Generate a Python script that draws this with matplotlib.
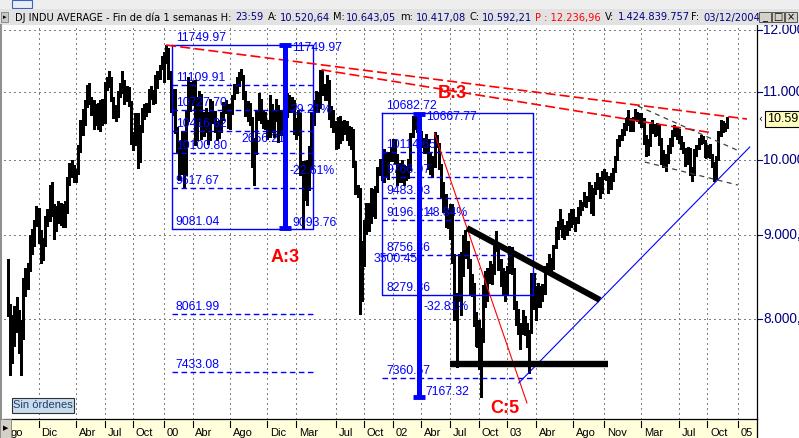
import matplotlib
matplotlib.use("Agg")
import matplotlib.pyplot as plt
import matplotlib.dates as mdates
import matplotlib.transforms as mtransforms
from matplotlib.patches import Rectangle
from matplotlib.ticker import NullLocator
import pandas as pd

# barras semanales DJ INDU (viernes), 28/08/1998 - 03/12/2004
hi98 = [8700, 8170, 8050, 8150, 8250, 8100, 7990, 8480, 8590, 8650, 9000, 9080, 9190, 9380, 9350, 9070, 8970, 9250, 9330]
lo98 = [8040, 7400, 7520, 7700, 7860, 7630, 7400, 7780, 8260, 8350, 8560, 8770, 8870, 9120, 8900, 8650, 8690, 8870, 9110]
cl98 = [8052, 7640, 7795, 7896, 8029, 7785, 7900, 8417, 8452, 8592, 8975, 8920, 9160, 9333, 9016, 8822, 8904, 9217, 9181]

hi99 = [9650, 9700, 9400, 9380, 9440, 9420, 9400, 9440, 9760, 9960, 10000, 9930, 9880, 10210, 10570, 10740, 10880, 11110,
        11140, 10930, 10880, 10820, 10830, 10880, 10900, 11150, 11230, 11330, 11230, 10920, 10800, 11010, 11140, 11330, 11180,
        11100, 11080, 10870, 10400, 10680, 10680, 10500, 10750, 10810, 10830, 11050, 11090, 11030, 11260, 11330, 11420, 11570]
lo99 = [9180, 9250, 8950, 9050, 9150, 9130, 9100, 9100, 9280, 9650, 9770, 9700, 9700, 9800, 10120, 10350, 10500, 10770,
        10820, 10650, 10450, 10510, 10440, 10420, 10500, 10540, 11030, 11080, 10870, 10600, 10560, 10620, 10930, 10990, 10820,
        10870, 10780, 10230, 10140, 10220, 9890, 9970, 10400, 10590, 10640, 10690, 10900, 10810, 10840, 11070, 11200, 11360]
cl99 = [9643, 9341, 9121, 9359, 9304, 9275, 9340, 9307, 9736, 9876, 9904, 9822, 9833, 10174, 10494, 10690, 10789, 11032,
        10913, 10829, 10560, 10800, 10491, 10856, 10553, 11139, 11194, 11210, 10911, 10655, 10714, 10974, 11100, 11090, 11079,
        11028, 10804, 10279, 10273, 10649, 10020, 10470, 10730, 10704, 10770, 11004, 10989, 10877, 11225, 11258, 11405, 11497]

hi00 = [11640, 11750, 11700, 11330, 11040, 11050, 10480, 10270, 10420, 10400, 10720, 11240, 11150, 11170, 11180, 10920, 11010,
        10970, 10700, 10760, 10700, 10890, 10870, 10710, 10560, 10580, 10700, 10850, 10880, 10810, 10810, 10960, 11120, 11240,
        11310, 11360, 11270, 11020, 10860, 10830, 10620, 10320, 10720, 10980, 10900, 10720, 10700, 10580, 10960, 10810, 10720, 10900]
lo00 = [11150, 11450, 11200, 10690, 10650, 10380, 10110, 9730, 9800, 9618, 9790, 10560, 10710, 10800, 10220, 10280, 10560,
        10300, 10340, 10400, 10230, 10290, 10540, 10400, 10280, 10320, 10400, 10580, 10680, 10460, 10450, 10660, 10890, 10980,
        11100, 11180, 10900, 10640, 10560, 10500, 9900, 9655, 10080, 10570, 10530, 10460, 10440, 10300, 10330, 10400, 10330, 10560]
cl00 = [11523, 11723, 11252, 10739, 10964, 10425, 10220, 9862, 10367, 9929, 10631, 11113, 10922, 11111, 10306, 10844, 10734,
        10578, 10609, 10627, 10299, 10795, 10614, 10449, 10376, 10448, 10636, 10813, 10734, 10511, 10768, 10909, 11046, 11193,
        11239, 11260, 10927, 10847, 10651, 10597, 10192, 10227, 10591, 10818, 10603, 10630, 10470, 10374, 10713, 10435, 10636, 10787]

hi01 = [10800, 10720, 10700, 10800, 10990, 10960, 10920, 10880, 10600, 10720, 10680, 9990, 9990, 10000, 10200, 10690, 10880,
        11010, 11000, 11350, 11340, 11120, 11270, 11180, 10780, 10720, 10560, 10620, 10640, 10560, 10580, 10560, 10490, 10470,
        10450, 9990, 9660, 9620, 8920, 9190, 9420, 9420, 9610, 9600, 9640, 9900, 10010, 9990, 10150, 10100, 10120, 10180]
lo01 = [10260, 10350, 10380, 10450, 10620, 10700, 10690, 10370, 10300, 10350, 9790, 9094, 9450, 9390, 9590, 9880, 10500,
        10700, 10700, 10750, 10950, 10880, 10880, 10590, 10480, 10400, 10160, 10170, 10240, 10280, 10370, 10280, 10210, 10150,
        9900, 9530, 9490, 8062, 8200, 8620, 9020, 9050, 9160, 9250, 9220, 9560, 9790, 9730, 9700, 9760, 9740, 9990]
cl01 = [10662, 10525, 10588, 10660, 10864, 10781, 10800, 10442, 10466, 10645, 9823, 9505, 9879, 9791, 10127, 10580, 10810,
        10951, 10821, 11302, 11005, 10990, 11176, 10624, 10605, 10502, 10253, 10539, 10417, 10416, 10513, 10416, 10241, 10423,
        9950, 9606, 9606, 8236, 8848, 9120, 9344, 9204, 9545, 9324, 9608, 9867, 9960, 9852, 10049, 9811, 10035, 10137]

hi02 = [10300, 10280, 10090, 9960, 10000, 9930, 9920, 10010, 10380, 10640, 10683, 10650, 10480, 10420, 10310, 10370, 10300,
        10120, 10060, 10400, 10360, 10240, 9950, 9700, 9530, 9320, 9400, 9400, 8760, 8300, 8760, 8790, 9000, 9060, 8920, 8700,
        8520, 8420, 8080, 7990, 7900, 8390, 8560, 8600, 8680, 8640, 8870, 9050, 8900, 8700, 8600, 8560]
lo02 = [9990, 9960, 9650, 9700, 9690, 9650, 9720, 9750, 9860, 10330, 10450, 10400, 10330, 10180, 10100, 10100, 9880, 9800,
        9760, 9900, 10180, 9870, 9480, 9300, 9100, 9090, 8950, 8650, 7990, 7485, 8200, 8050, 8500, 8720, 8600, 8280, 8260, 7920,
        7700, 7460, 7167, 7750, 8140, 8200, 8420, 8400, 8520, 8800, 8570, 8380, 8280, 8200]
cl02 = [10260, 10068, 9772, 9840, 9907, 9744, 9903, 9968, 10369, 10572, 10607, 10428, 10404, 10272, 10191, 10257, 9911,
        10007, 9940, 10353, 10216, 9925, 9590, 9474, 9254, 9243, 9380, 8685, 8019, 8264, 8313, 8745, 8778, 8873, 8664, 8427,
        8379, 7986, 7701, 7528, 7850, 8322, 8444, 8518, 8537, 8579, 8805, 8896, 8646, 8434, 8511, 8304]

hi03 = [8620, 8870, 8850, 8600, 8210, 8110, 7960, 8100, 8040, 7960, 7880, 8540, 8530, 8380, 8420, 8380, 8400, 8620, 8660,
        8760, 8720, 8880, 9100, 9180, 9340, 9210, 9130, 9180, 9290, 9330, 9340, 9230, 9360, 9460, 9430, 9560, 9510, 9690, 9660,
        9610, 9700, 9820, 9760, 9850, 9880, 9840, 9780, 9820, 9890, 10060, 10300, 10350]
lo03 = [8280, 8540, 8520, 8110, 7930, 7840, 7670, 7830, 7820, 7690, 7416, 7850, 8110, 7990, 8140, 8140, 8200, 8290, 8530,
        8520, 8520, 8580, 8840, 8950, 9080, 8980, 8950, 9000, 9070, 9100, 9140, 9050, 9160, 9260, 9320, 9380, 9360, 9440, 9290,
        9260, 9540, 9600, 9480, 9550, 9740, 9720, 9550, 9600, 9710, 9840, 10000, 10200]
cl03 = [8602, 8785, 8587, 8131, 8054, 7864, 7909, 8018, 7891, 7740, 7860, 8522, 8146, 8277, 8203, 8338, 8306, 8583, 8605,
        8713, 8601, 8850, 9063, 9117, 9201, 9012, 9070, 9120, 9188, 9285, 9154, 9191, 9322, 9349, 9416, 9503, 9472, 9645, 9313,
        9572, 9675, 9722, 9582, 9801, 9810, 9769, 9629, 9782, 9863, 10042, 10278, 10305]

hi04 = [10450, 10540, 10610, 10720, 10600, 10620, 10740, 10700, 10680, 10680, 10600, 10350, 10300, 10520, 10570, 10520,
        10540, 10520, 10320, 10140, 10090, 10220, 10320, 10430, 10500, 10480, 10450, 10340, 10260, 10170, 10180, 10170, 9900,
        10150, 10220, 10320, 10350, 10340, 10290, 10220, 10230, 10080, 9970, 10060, 10420, 10570, 10560, 10530, 10620]
lo04 = [10280, 10360, 10430, 10510, 10420, 10420, 10580, 10560, 10540, 10480, 10230, 10050, 10070, 10200, 10390, 10340,
        10360, 10210, 9950, 9900, 9850, 9960, 10100, 10200, 10340, 10300, 10240, 10160, 10100, 9920, 9950, 9790, 9710, 9790,
        10060, 10150, 10230, 10240, 10040, 10040, 10030, 9900, 9708, 9740, 10000, 10340, 10400, 10420, 10460]
cl04 = [10410, 10459, 10601, 10568, 10488, 10593, 10628, 10619, 10584, 10596, 10240, 10187, 10213, 10471, 10442, 10452,
        10473, 10226, 10117, 10013, 9967, 10188, 10243, 10410, 10416, 10372, 10283, 10213, 10140, 9962, 10140, 9815, 9825,
        10110, 10195, 10260, 10313, 10284, 10047, 10193, 10055, 9933, 9758, 10027, 10388, 10539, 10457, 10522, 10592]

hi = hi98 + hi99 + hi00 + hi01 + hi02 + hi03 + hi04
lo = lo98 + lo99 + lo00 + lo01 + lo02 + lo03 + lo04
cl = cl98 + cl99 + cl00 + cl01 + cl02 + cl03 + cl04
semanas = pd.date_range("1998-08-28", periods=len(cl), freq="W-FRI")

# eje de fechas
tick_fechas = ["1998-08-07", "1998-12-04", "1999-04-02", "1999-07-02", "1999-10-01", "2000-01-07", "2000-04-07",
               "2000-08-04", "2000-12-01", "2001-03-02", "2001-07-06", "2001-10-05", "2002-01-04", "2002-04-05",
               "2002-07-05", "2002-10-04", "2003-01-03", "2003-04-04", "2003-08-01", "2003-11-07", "2004-03-05",
               "2004-07-02", "2004-10-01", "2005-01-07"]
tick_textos = ["Ago", "Dic", "Abr", "Jul", "Oct", "00", "Abr", "Ago", "Dic", "Mar", "Jul", "Oct", "02", "Abr", "Jul",
               "Oct", "03", "Abr", "Ago", "Nov", "Mar", "Jul", "Oct", "05"]
niveles_y = [8000, 9000, 10000, 11000, 12000]
textos_y = ["8.000,00", "9.000,00", "10.000,00", "11.000,00", "12.000,00"]

# retrocesos (Fibonacci)
caja1_fechas = ["2000-02-01", "2001-04-25"]
caja1_arriba, caja1_abajo = 11749.97, 9081.04
caja1_niveles = [11109.91, 10727.70, 10416.82, 10100.80, 9617.67, 8061.99, 7433.08]
tramo1_fecha = "2001-01-26"
tramo1_precios = [11749.97, 9093.76]

caja2_fechas = ["2001-12-01", "2003-03-26"]
caja2_arriba, caja2_abajo = 10682.72, 8279.36
caja2_niveles = [10114.65, 9766.97, 9483.93, 9196.21, 8756.36, 7360.57]
tramo2_fecha = "2002-03-28"
tramo2_precios = [10667.77, 7167.32]

# lineas de tendencia
roja_alta = (["2000-01-14", "2005-02-04"], [11750, 10592])
roja_baja = (["2001-05-22", "2004-10-19"], [11350, 10386])
roja_c = (["2002-05-17", "2003-03-07"], [10380, 7112])
negra_bajista = (["2002-08-28", "2003-10-25"], [9090, 8218])
negra_soporte = (["2002-07-05", "2003-11-20"], [7512, 7512])
azul_alcista = (["2003-02-09", "2005-02-13"], [7315, 10184])
canal_alto = (["2004-02-23", "2005-01-03"], [10787, 10141])
canal_bajo = (["2004-03-16", "2005-01-06"], [9972, 9655])

W, H = 799, 438
AZUL = "#0000FF"
ROJO = "#FF0000"
MARINO = "#000080"


def fx(x):
    return x / W


def fy(y):
    return 1 - y / H


def d(s):
    return mdates.date2num(pd.Timestamp(s).to_pydatetime())


fig = plt.figure(figsize=(W / 100, H / 100), dpi=100)
fig.patch.set_facecolor("white")

ax = fig.add_axes([fx(4), fy(419), (757 - 4) / W, (419 - 25) / H])
ax.set_yscale("log")
ax.set_xlim(d("1998-08-16"), d("2005-03-08"))
ax.set_ylim(6954, 12085)
ax.yaxis.set_minor_locator(NullLocator())
ax.set_xticks([])
ax.set_yticks([])
for lado in ["top", "left"]:
    ax.spines[lado].set_visible(False)
for lado in ["right", "bottom"]:
    ax.spines[lado].set_color("black")
    ax.spines[lado].set_linewidth(0.9)

# rejilla punteada
for v in niveles_y:
    ax.axhline(v, color="#808080", lw=0.75, ls=(0, (1, 3)), antialiased=False, zorder=1)
for t in tick_fechas:
    ax.axvline(d(t), color="#808080", lw=0.75, ls=(0, (1, 3)), antialiased=False, zorder=1)

# barras
xs = [mdates.date2num(t.to_pydatetime()) for t in semanas]
ax.vlines(xs, lo, hi, colors="black", lw=1.0, antialiaseds=False, zorder=3)
ax.hlines(cl, xs, [x + 3 for x in xs], colors="black", lw=1.0, antialiaseds=False, zorder=3)

lbl = dict(family="Liberation Sans", fontsize=8.8, color=AZUL)


def caja(fechas, arriba, abajo, niveles):
    x0, x1 = d(fechas[0]), d(fechas[1])
    ax.plot([x0, x1, x1, x0, x0], [arriba, arriba, abajo, abajo, arriba], color=AZUL, lw=1.0, zorder=4)
    for v in niveles:
        ax.plot([x0, x1], [v, v], color=AZUL, lw=1.0, ls=(0, (4, 2.5)), zorder=4)
    for v in [arriba] + niveles + [abajo]:
        ax.annotate(f"{v:.2f}", (x0, v), xytext=(4, 1), textcoords="offset pixels", va="bottom", ha="left", **lbl)


def tramo(fecha, precios):
    x = d(fecha)
    ax.plot([x, x], precios, color=AZUL, lw=3.6, solid_capstyle="butt", zorder=5)
    ax.plot([x, x], precios, ls="none", marker="_", ms=8, mew=3.5, color=AZUL, zorder=5)
    ax.annotate(f"{precios[0]:.2f}", (x, precios[0]), xytext=(7, -3), textcoords="offset pixels", va="center", **lbl)
    ax.annotate(f"{precios[1]:.2f}", (x, precios[1]), xytext=(7, 5), textcoords="offset pixels", va="center", **lbl)


caja(caja1_fechas, caja1_arriba, caja1_abajo, caja1_niveles)
caja(caja2_fechas, caja2_arriba, caja2_abajo, caja2_niveles)
tramo(tramo1_fecha, tramo1_precios)
tramo(tramo2_fecha, tramo2_precios)

ax.annotate("29.21%", (d(tramo1_fecha), 10727.70), xytext=(5, 0), textcoords="offset pixels", va="center", **lbl)
ax.annotate("-22.61%", (d(tramo1_fecha), 9850), xytext=(5, 0), textcoords="offset pixels", va="center", **lbl)
ax.text(d("2000-09-08"), 10300, "2656.21", va="center", **lbl)
ax.annotate("48.84%", (d(tramo2_fecha), 9196.21), xytext=(8, 1), textcoords="offset pixels", va="bottom", **lbl)
ax.annotate("-32.81%", (d(tramo2_fecha), 8135), xytext=(5, 0), textcoords="offset pixels", va="center", **lbl)
ax.text(d("2001-11-05"), 8706, "3500.45", va="center", **lbl)


def linea(par, **kw):
    ax.plot([d(t) for t in par[0]], par[1], **kw)


linea(roja_alta, color=ROJO, lw=1.2, ls=(0, (6, 2.5)), zorder=4)
linea(roja_baja, color=ROJO, lw=1.2, ls=(0, (6, 2.5)), zorder=4)
linea(roja_c, color=ROJO, lw=0.8, zorder=4)
linea(negra_bajista, color="black", lw=4.4, solid_capstyle="butt", zorder=6)
linea(negra_soporte, color="black", lw=4.6, solid_capstyle="butt", zorder=6)
linea(azul_alcista, color=AZUL, lw=0.8, zorder=4)
linea(canal_alto, color="#404040", lw=0.9, ls=(0, (4, 3.5)), zorder=4)
linea(canal_bajo, color="#404040", lw=0.9, ls=(0, (4, 3.5)), zorder=4)

rojo_txt = dict(family="Liberation Sans", fontsize=13, fontweight="bold", color=ROJO, ha="center", va="center")
ax.text(d(tramo1_fecha), 8720, "A:3", **rojo_txt)
ax.text(d("2002-07-11"), 10984, "B:3", **rojo_txt)
ax.text(d("2002-12-27"), 7058, "C:5", clip_on=False, **rojo_txt)

# eje X (banda amarilla)
fig.add_artist(Rectangle((fx(0), fy(438)), 1, (438 - 419) / H, transform=fig.transFigure,
                         facecolor="white", edgecolor="none", zorder=-2))
fig.add_artist(Rectangle((fx(10), fy(438)), (757 - 10) / W, (438 - 419.5) / H, transform=fig.transFigure,
                         facecolor="#FFFFDC", edgecolor="none", zorder=-1))
tx = mtransforms.blended_transform_factory(ax.transData, fig.transFigure)
for t, s in zip(tick_fechas, tick_textos):
    ax.plot([d(t), d(t)], [fy(421), fy(427)], color="black", lw=0.8, transform=tx, clip_on=False, zorder=2)
    if t == tick_fechas[0]:
        # la primera etiqueta queda medio tapada por el boton
        s = s[1:]
        x_txt = d(t) + 31
    else:
        x_txt = d(t) + 9
    ax.text(x_txt, fy(436), s, transform=tx, family="Liberation Sans", fontsize=8, color="black",
            ha="left", va="baseline", clip_on=False)
fig.add_artist(Rectangle((fx(0), fy(438)), 11 / W, 19 / H, transform=fig.transFigure,
                         facecolor="#D4D0C8", edgecolor="#808080", lw=0.6, zorder=5))
fig.text(fx(5.5), fy(428), "\u25b6", fontsize=5, ha="center", va="center", color="black", zorder=6)

# eje Y (derecha)
ty = mtransforms.blended_transform_factory(fig.transFigure, ax.transData)
for v, s in zip(niveles_y, textos_y):
    ax.plot([fx(757), fx(762)], [v, v], color=MARINO, lw=0.8, transform=ty, clip_on=False)
    ax.text(fx(763), v, s, transform=ty, family="Liberation Sans", fontsize=9.8, color=MARINO,
            ha="left", va="center", clip_on=False)
ax.text(fx(767), cl[-1], "10.59", transform=ty, family="Liberation Sans", fontsize=9, color="black",
        ha="left", va="center", clip_on=False,
        bbox=dict(boxstyle="square,pad=0.15", facecolor="#FFFFC0", edgecolor="black", lw=0.8))
ax.text(fx(760), cl[-1], "\u2039", transform=ty, fontsize=7, color="black", ha="center", va="center", clip_on=False)
fig.add_artist(plt.Line2D([fx(757), fx(757)], [fy(419), fy(438)], color="black", lw=0.9, transform=fig.transFigure))

# borde izquierdo
fig.add_artist(plt.Line2D([fx(0.8), fx(0.8)], [fy(419), fy(25)], color="#909090", lw=1.5, transform=fig.transFigure))

# cabecera
fig.add_artist(Rectangle((0, fy(9)), 1, 9 / H, transform=fig.transFigure, facecolor="#EEEEEE", edgecolor="none"))
fig.add_artist(Rectangle((fx(12), fy(8)), 20 / W, 8 / H, transform=fig.transFigure, facecolor="#E8EEF8",
                         edgecolor="#4060C0", lw=0.8))
fig.add_artist(Rectangle((0, fy(25)), 1, 16 / H, transform=fig.transFigure, facecolor="#E2E2E2", edgecolor="none"))
fig.add_artist(Rectangle((fx(1), fy(22)), 7 / W, 10 / H, transform=fig.transFigure, facecolor="#C8C8C8",
                         edgecolor="#808080", lw=0.6))
fig.text(fx(4.5), fy(17), "\u25b8", fontsize=5, ha="center", va="center", color="black")

cabecera = [(15, "DJ INDU AVERAGE - Fin de día 1 semanas H:", "black"), (235, "23:59", MARINO),
            (268, "A:", "black"), (280, "10.520,64", MARINO), (333, "M:", "black"), (346, "10.643,05", MARINO),
            (400, "m:", "black"), (416, "10.417,08", MARINO), (469, "C:", "black"), (482, "10.592,21", MARINO),
            (535, "P : 12.236,96", ROJO), (605, "V:", "black"), (618, "1.424.839.757", MARINO),
            (691, "F:", "black"), (703, "03/12/2004", MARINO)]
for x, s, c in cabecera:
    fig.text(fx(x), fy(17.5), s, fontsize=7.1, family="DejaVu Sans", color=c, ha="left", va="center")

fig.add_artist(Rectangle((fx(757), fy(25)), 42 / W, 16 / H, transform=fig.transFigure, facecolor="#E2E2E2",
                         edgecolor="none", zorder=3))
for i, s in enumerate(["_", "\u25a1", "\u00d7"]):
    x0 = 759 + i * 13
    fig.add_artist(Rectangle((fx(x0), fy(22)), 12 / W, 10 / H, transform=fig.transFigure,
                             facecolor="#D4D0C8", edgecolor="#404040", lw=0.6, zorder=4))
    fig.text(fx(x0 + 6), fy(17), s, fontsize=7, ha="center", va="center", color="black", zorder=5)

# boton "Sin órdenes"
fig.add_artist(Rectangle((fx(11.5), fy(413)), 62 / W, 15 / H, transform=fig.transFigure,
                         facecolor="#C8DCF0", edgecolor="#303030", lw=0.8, zorder=5))
fig.text(fx(42.5), fy(405.5), "Sin órdenes", fontsize=8, family="Liberation Sans", color="#1F3F5F",
         ha="center", va="center", zorder=6)

fig.savefig("out.png", dpi=100)
